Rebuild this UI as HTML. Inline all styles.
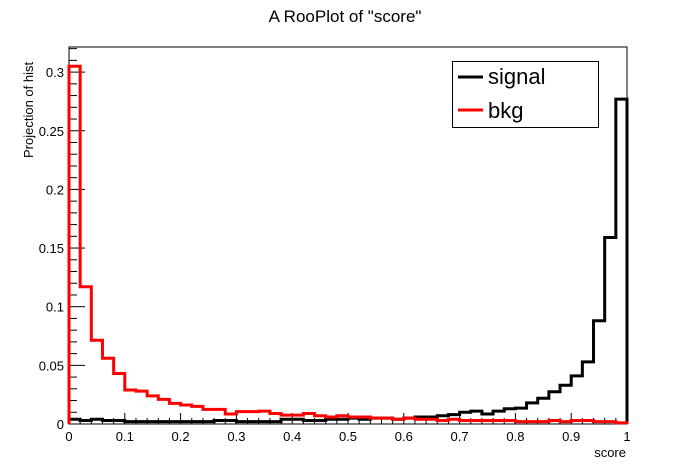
<!DOCTYPE html>
<html><head><meta charset="utf-8"><style>
body{margin:0;background:#fff;}
svg{display:block;font-family:"Liberation Sans",sans-serif;}
</style></head><body>
<svg id="c" width="696" height="472">
<text x="345" y="22" font-size="17" text-anchor="middle">A RooPlot of "score"</text>
<text transform="translate(33,158) rotate(-90)" font-size="13">Projection of hist</text>
<text x="626" y="457" font-size="13" text-anchor="end">score</text>
<rect x="69" y="47" width="558" height="377" fill="none" stroke="#000" stroke-width="1"/>
<g id="axes"></g>
<g id="series"></g>
<g>
<rect x="452.5" y="61.5" width="146" height="66" fill="#fff" stroke="#000"/>
<line x1="458" y1="77" x2="483" y2="77" stroke="#000" stroke-width="3"/>
<text x="488" y="84" font-size="22">signal</text>
<line x1="458" y1="110" x2="483" y2="110" stroke="#f00" stroke-width="3"/>
<text x="488" y="118" font-size="22">bkg</text>
</g>
</svg>
<script>
const xTicks=[0,0.1,0.2,0.3,0.4,0.5,0.6,0.7,0.8,0.9,1];
const xTickLabels=["0","0.1","0.2","0.3","0.4","0.5","0.6","0.7","0.8","0.9","1"];
const yTicks=[0,0.05,0.1,0.15,0.2,0.25,0.3];
const yTickLabels=["0","0.05","0.1","0.15","0.2","0.25","0.3"];
const binWidth=0.02;
const signal=[0.004,0.003,0.004,0.003,0.003,0.002,0.002,0.002,0.002,0.002,0.002,0.002,0.002,0.003,0.003,0.002,0.002,0.002,0.002,0.004,0.004,0.003,0.003,0.004,0.004,0.005,0.004,0.005,0.005,0.004,0.005,0.006,0.006,0.007,0.008,0.010,0.011,0.0085,0.011,0.013,0.0135,0.018,0.022,0.0275,0.033,0.041,0.053,0.088,0.159,0.277];
const bkg=[0.305,0.117,0.0714,0.056,0.043,0.029,0.028,0.024,0.021,0.0176,0.0162,0.015,0.0125,0.0125,0.0085,0.0105,0.0105,0.011,0.009,0.0076,0.0076,0.009,0.007,0.006,0.007,0.006,0.006,0.005,0.005,0.004,0.005,0.004,0.004,0.003,0.004,0.003,0.003,0.003,0.003,0.003,0.002,0.002,0.002,0.003,0.002,0.003,0.003,0.002,0.002,0.001];
const NS='http://www.w3.org/2000/svg';
const X0=69,X1=627,Y0=424,YMAX=0.3214,YTOP=47;
const xs=v=>X0+v*(X1-X0);
const ys=v=>Y0-v/YMAX*(Y0-YTOP);
const axes=document.getElementById('axes'),ser=document.getElementById('series');
function mk(tag,attrs,parent){const e=document.createElementNS(NS,tag);for(const k in attrs)e.setAttribute(k,attrs[k]);parent.appendChild(e);return e;}
for(let i=0;i<=50;i++){const x=xs(i*0.02);const l=mk('line',{x1:x,x2:x,y1:Y0,y2:Y0-(i%5==0?11:6),stroke:'#000'},axes);

}
for(let i=0;i*0.01<=YMAX;i++){const y=ys(i*0.01);const l=mk('line',{x1:X0,x2:X0+(i%5==0?16:8),y1:y,y2:y,stroke:'#000'},axes);

}
xTicks.forEach((v,i)=>{const t=mk('text',{x:xs(v),y:441,'font-size':13,'text-anchor':'middle'},axes);t.textContent=xTickLabels[i];

});
yTicks.forEach((v,i)=>{const t=mk('text',{x:64,y:ys(v)+5,'font-size':13,'text-anchor':'end'},axes);t.textContent=yTickLabels[i];

});
function step(a,color,name){
  let d='M'+xs(0)+','+ys(0);
  for(let i=0;i<a.length;i++){d+=' L'+xs(i*binWidth)+','+ys(a[i])+' L'+xs((i+1)*binWidth)+','+ys(a[i]);}
  d+=' L'+xs(a.length*binWidth)+','+ys(0);
  const p=mk('path',{d:d,fill:'none',stroke:color,'stroke-width':3},ser);
  
  
}
step(signal,'#000','signal-histogram');
step(bkg,'#f00','bkg-histogram');
</script>
</body></html>
